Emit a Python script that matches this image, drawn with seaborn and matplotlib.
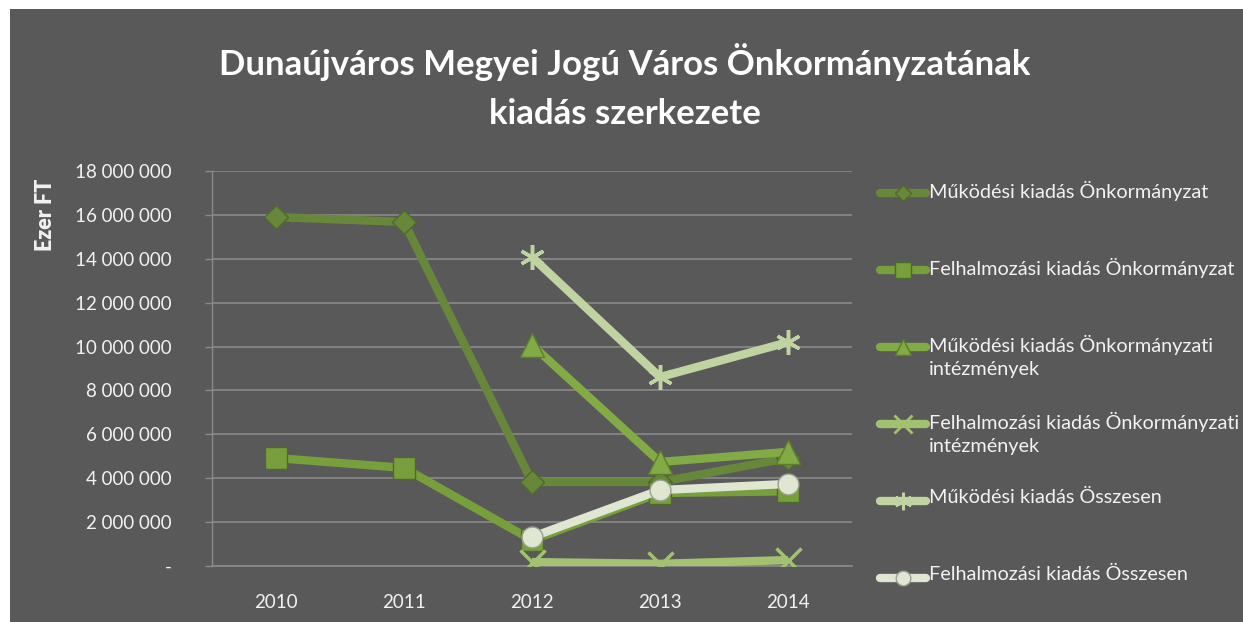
import matplotlib
matplotlib.use("Agg")
import matplotlib.pyplot as plt
from matplotlib.lines import Line2D
from matplotlib.patches import Rectangle
from matplotlib.ticker import FuncFormatter, FixedLocator
import numpy as np
import seaborn as sns

# data (ezer Ft)
years = [2010, 2011, 2012, 2013, 2014]
mukodesi_onk = [15900000, 15680000, 3830000, 3830000, 4920000]
felhalm_onk = [4920000, 4470000, 1180000, 3330000, 3400000]
mukodesi_int = [np.nan, np.nan, 10070000, 4740000, 5200000]
felhalm_int = [np.nan, np.nan, 180000, 100000, 270000]
mukodesi_ossz = [np.nan, np.nan, 14080000, 8610000, 10200000]
felhalm_ossz = [np.nan, np.nan, 1320000, 3460000, 3740000]

labels = [
    "Működési kiadás Önkormányzat",
    "Felhalmozási kiadás Önkormányzat",
    "Működési kiadás Önkormányzati\nintézmények",
    "Felhalmozási kiadás Önkormányzati\nintézmények",
    "Működési kiadás Összesen",
    "Felhalmozási kiadás Összesen",
]
series = [mukodesi_onk, felhalm_onk, mukodesi_int, felhalm_int, mukodesi_ossz, felhalm_ossz]

colors = ["#67873a", "#77a03c", "#82aa45", "#a2c272", "#bfd4a0", "#dfe7d2"]
markers = ["D", "s", "^", "x", (6, 2, 0), "o"]
msizes = [12, 16, 17, 18, 18, 15]
medges = ["#4f6a2a", "#4f6a2a", "#5d7d2c", "#a2c272", "#bfd4a0", "#9aa08f"]

sns.set_theme(style="white")
plt.rcParams["font.family"] = ["Lato", "DejaVu Sans"]

W, H = 1243, 622
fig = plt.figure(figsize=(W / 100, H / 100), dpi=100, facecolor="white")
fig.add_artist(Rectangle((10 / W, 0), 1 - 10 / W, (H - 9) / H, transform=fig.transFigure,
                         facecolor="#595959", edgecolor="none", zorder=-10))

ax = fig.add_axes([212 / W, 1 - 566 / H, 640 / W, 395 / H])
ax.set_facecolor("none")

for vals, col, mk, ms, me in zip(series, colors, markers, msizes, medges):
    thin = mk in ("x", (6, 2, 0))
    sns.lineplot(x=years, y=vals, ax=ax, color=col, linewidth=6, marker=mk,
                 markersize=ms, markeredgecolor=col if thin else me,
                 markeredgewidth=2.5 if thin else 1,
                 solid_capstyle="butt", zorder=3)

ax.set_xlim(2009.5, 2014.5)
ax.set_ylim(0, 18000000)
ax.set_xlabel("")
ax.set_ylabel("")

ax.yaxis.set_major_locator(FixedLocator(np.arange(0, 18000001, 2000000)))
ax.yaxis.set_major_formatter(FuncFormatter(
    lambda v, p: "-" if v == 0 else f"{int(v):,}".replace(",", " ")))
ax.grid(axis="y", color="#8a8a8a", linewidth=1.2)
ax.grid(axis="x", visible=False)

ax.set_xticks(years)
ax.set_xticklabels([str(y) for y in years])
ax.set_xticks(np.arange(2009.5, 2015, 1), minor=True)
ax.tick_params(axis="x", which="major", length=0, pad=20, labelsize=13.5, labelcolor="#f2f2f2")
ax.tick_params(axis="x", which="minor", length=6, width=1, color="#8a8a8a", direction="out")
ax.tick_params(axis="y", which="major", length=5, width=1, color="#8a8a8a", pad=24,
               labelsize=13.5, labelcolor="#f2f2f2", left=True)

for s in ["top", "right"]:
    ax.spines[s].set_visible(False)
ax.spines["left"].set_color("#8a8a8a")
ax.spines["bottom"].set_color("#8a8a8a")
ax.spines["left"].set_linewidth(1)
ax.spines["bottom"].set_linewidth(1.2)

fig.text(45 / W, 1 - 215 / H, "Ezer FT", rotation=90, ha="center", va="center",
         fontsize=15.5, fontweight="heavy", color="#f2f2f2")

fig.text(625 / W, 1 - 62 / H, "Dunaújváros Megyei Jogú Város Önkormányzatának",
         ha="center", va="center", fontsize=25, fontweight="bold", color="white")
fig.text(625 / W, 1 - 114 / H, "kiadás szerkezete",
         ha="center", va="center", fontsize=25, fontweight="bold", color="white")

# legend, first lines evenly spaced as in the original
for i, (lab, col, mk, ms, me) in enumerate(zip(labels, colors, markers, msizes, medges)):
    yp = 193 + i * 77.0
    yf = 1 - yp / H
    thin = mk in ("x", (6, 2, 0))
    fig.add_artist(Line2D([880 / W, 926 / W], [yf, yf], transform=fig.transFigure,
                          color=col, linewidth=6, solid_capstyle="round"))
    fig.add_artist(Line2D([903 / W], [yf], transform=fig.transFigure, color=col,
                          marker=mk, markersize=ms * 0.7, linestyle="none",
                          markeredgecolor=col if thin else me,
                          markeredgewidth=2 if thin else 1))
    fig.text(929 / W, 1 - (yp - 12) / H, lab, ha="left", va="top", fontsize=14.3,
             color="#f2f2f2", linespacing=1.4)

fig.savefig("out.png", dpi=100, facecolor="white")
